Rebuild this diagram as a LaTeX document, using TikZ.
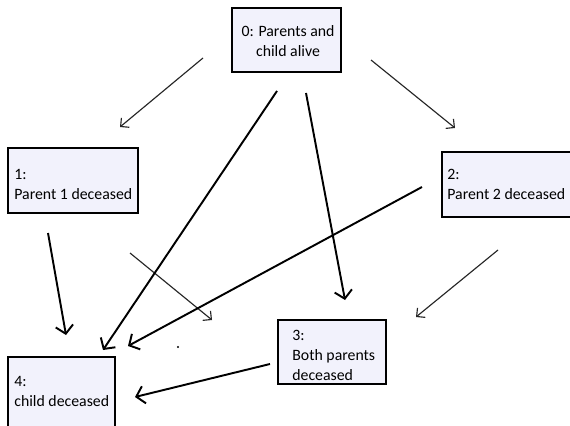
\documentclass[tikz,border=0pt]{standalone}
\usepackage{fontspec}
\setmainfont{Carlito}
\usetikzlibrary{arrows.meta,fit}
\definecolor{boxfill}{RGB}{242,242,252}
\begin{document}
\begin{tikzpicture}[x=0.02cm,y=-0.02cm,
  statebox/.style={draw=black, line width=1.1pt, fill=boxfill, inner sep=0pt},
  boxtext/.style={font=\fontsize{9}{11.4}\selectfont, inner sep=0pt, align=left, anchor=north west},
  thinarrow/.style={draw=black!85, line width=0.65pt, -{Straight Barb[length=3.5pt,width=7pt]}},
  thickarrow/.style={draw=black, line width=1.1pt, -{Straight Barb[length=4.5pt,width=10pt]}}]
\clip (0,0) rectangle (570,425);
\fill[white] (0,0) rectangle (570,425);

% state boxes
\node[statebox, fit={(232,8) (341,72)}] (s0) {};
\node[statebox, fit={(8,148) (138,213)}] (s1) {};
\node[statebox, fit={(442,152) (578,217)}] (s2) {};
\node[statebox, fit={(278,320) (386,384)}] (s3) {};
\node[statebox, fit={(8,357) (115,440)}] (s4) {};

% state labels
\node[boxtext, align=center, anchor=north] (t0) at (288,25) {0: Parents and\\child alive};
\node[boxtext] (t1) at (14,169) {1:\\Parent 1 deceased};
\node[boxtext] (t2) at (447,169) {2:\\Parent 2 deceased};
\node[boxtext] (t3) at (292,330) {3:\\Both parents\\deceased};
\node[boxtext] (t4) at (14,376) {4:\\child deceased};

% arrow end points
\coordinate (a01s) at (203,58);  \coordinate (a01e) at (120,127);
\coordinate (a02s) at (371,60);  \coordinate (a02e) at (455,128);
\coordinate (a04s) at (277,91);  \coordinate (a04e) at (103,350);
\coordinate (a03s) at (306,93);  \coordinate (a03e) at (345,300);
\coordinate (a24s) at (422,187); \coordinate (a24e) at (128,346);
\coordinate (a14s) at (48,233);  \coordinate (a14e) at (66,335);
\coordinate (a13s) at (130,253); \coordinate (a13e) at (212,320);
\coordinate (a23s) at (498,250); \coordinate (a23e) at (416,317);
\coordinate (a34s) at (270,364); \coordinate (a34e) at (135,397);

% transitions
\draw[thinarrow] (a01s) -- (a01e);
\draw[thinarrow] (a02s) -- (a02e);
\draw[thinarrow] (a13s) -- (a13e);
\draw[thinarrow] (a23s) -- (a23e);
\draw[thickarrow] (a04s) -- (a04e);
\draw[thickarrow] (a03s) -- (a03e);
\draw[thickarrow] (a24s) -- (a24e);
\draw[thickarrow] (a14s) -- (a14e);
\draw[thickarrow] (a34s) -- (a34e);

% small dot
\fill (178,347) circle (0.7pt);
\end{tikzpicture}
\end{document}
